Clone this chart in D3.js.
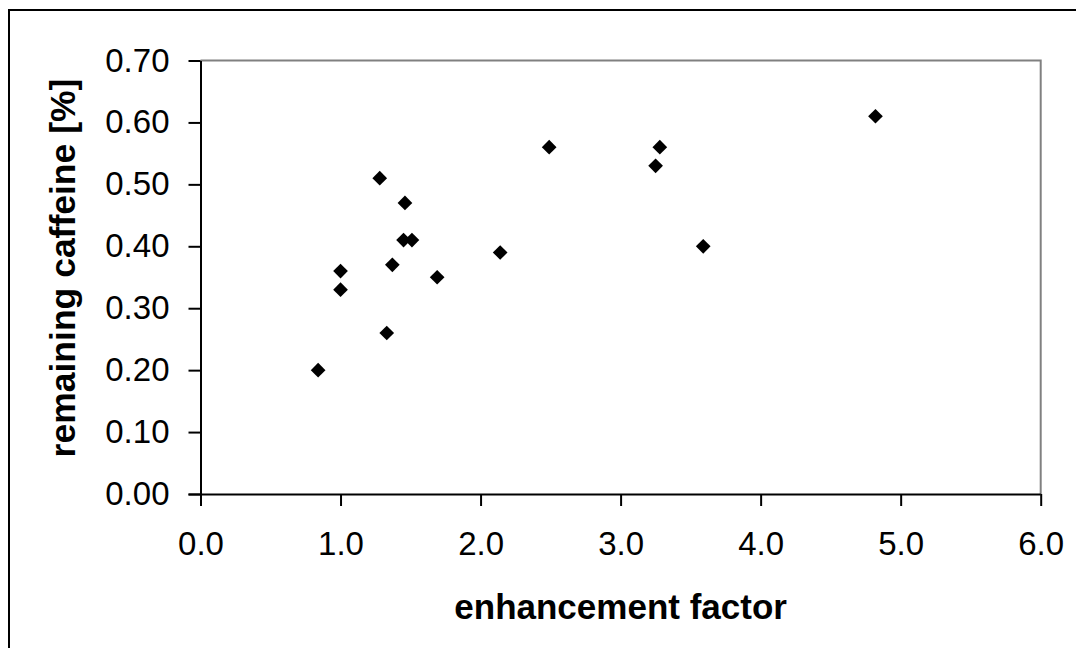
<!DOCTYPE html>
<html>
<head>
<meta charset="utf-8">
<script src="https://cdn.jsdelivr.net/npm/d3@7"></script>
<style>
  html, body { margin: 0; padding: 0; background: #fff; }
  svg { display: block; }
</style>
</head>
<body>
<script>
// Data
const enhancementFactor = [1.28, 1.46, 1.45, 1.51, 1.37, 1.00, 1.00, 1.69, 1.33, 0.84, 2.49, 3.28, 3.25, 2.14, 4.82, 3.59];
const remainingCaffeine = [0.51, 0.47, 0.41, 0.41, 0.37, 0.36, 0.33, 0.35, 0.26, 0.20, 0.56, 0.56, 0.53, 0.39, 0.61, 0.40];
const xTicks = [0, 1, 2, 3, 4, 5, 6];
const yTicks = [0, 0.1, 0.2, 0.3, 0.4, 0.5, 0.6, 0.7];
const xTitle = "enhancement factor";
const yTitle = "remaining caffeine [%]";

const W = 1076, H = 648;
const plot = { left: 200.5, right: 1040.7, top: 60.5, bottom: 494 };

const svg = d3.select("body").append("svg").attr("width", W).attr("height", H);
const font = "'Liberation Sans', Arial, sans-serif";

// outer frame
svg.append("rect")
  .attr("x", 9).attr("y", 10).attr("width", W + 10).attr("height", H + 10)
  .attr("fill", "#fff").attr("stroke", "#000").attr("stroke-width", 2);

const x = d3.scaleLinear().domain([0, 6]).range([plot.left, plot.right]);
const y = d3.scaleLinear().domain([0, 0.7]).range([plot.bottom, plot.top]);

// plot area border (top & right grey)
svg.append("path")
  .attr("d", `M${plot.left},${plot.top}H${plot.right}V${plot.bottom}`)
  .attr("fill", "none").attr("stroke", "#808080").attr("stroke-width", 2);

// x axis
const gx = svg.append("g")
  .attr("transform", `translate(0,${plot.bottom})`)
  .call(d3.axisBottom(x).tickValues(xTicks).tickFormat(d3.format(".1f"))
    .tickSizeInner(12).tickSizeOuter(0).tickPadding(26));
gx.select(".domain").attr("stroke", "#000").attr("stroke-width", 2)
  .attr("d", `M${plot.left - 12},0.5H${plot.right}`);
gx.selectAll(".tick line").attr("stroke", "#000").attr("stroke-width", 2);
gx.selectAll(".tick text").attr("font-family", font).attr("font-size", 33).attr("fill", "#000");

// y axis
const gy = svg.append("g")
  .attr("transform", `translate(${plot.left},0)`)
  .call(d3.axisLeft(y).tickValues(yTicks).tickFormat(d3.format(".2f"))
    .tickSizeInner(12).tickSizeOuter(0).tickPadding(19));
gy.select(".domain").attr("stroke", "#000").attr("stroke-width", 2);
gy.selectAll(".tick line").attr("stroke", "#000").attr("stroke-width", 2);
gy.selectAll(".tick text").attr("font-family", font).attr("font-size", 33).attr("fill", "#000");

// points
const pts = enhancementFactor.map((v, i) => ({ x: v, y: remainingCaffeine[i] }));
const sym = d3.symbol().type(d3.symbolSquare).size(108);
svg.append("g").selectAll("path")
  .data(pts).join("path")
  .attr("d", sym)
  .attr("transform", d => `translate(${x(d.x)},${y(d.y)}) rotate(45)`)
  .attr("fill", "#000");

// titles
svg.append("text")
  .attr("x", (plot.left + plot.right) / 2).attr("y", 619)
  .attr("text-anchor", "middle")
  .attr("font-family", font).attr("font-weight", "bold").attr("font-size", 35)
  .text(xTitle);

svg.append("text")
  .attr("transform", `translate(75,268) rotate(-90)`)
  .attr("text-anchor", "middle")
  .attr("font-family", font).attr("font-weight", "bold").attr("font-size", 35.5)
  .text(yTitle);
</script>
</body>
</html>
